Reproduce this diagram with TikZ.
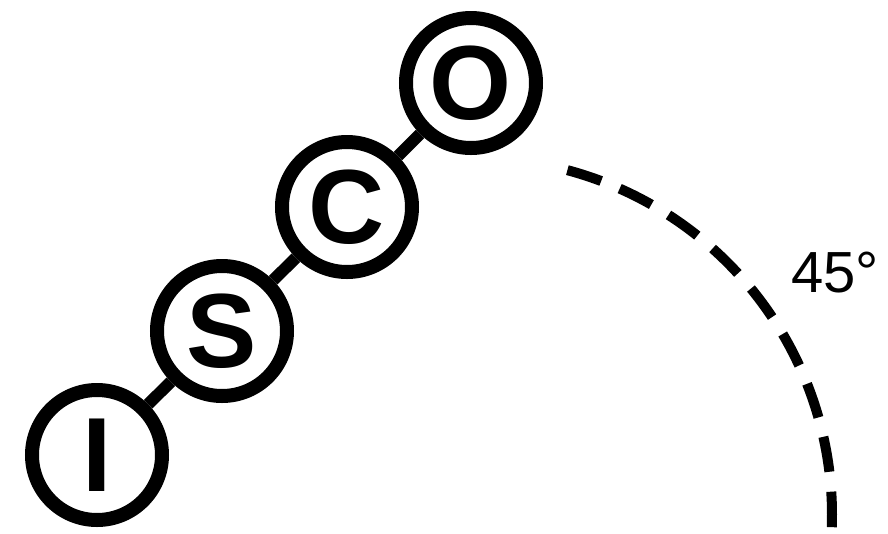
\documentclass[tikz,border=0pt]{standalone}
\usepackage{fontspec}
\setmainfont{Liberation Sans}
\begin{document}
\begin{tikzpicture}[x=1cm,y=1cm,
  atom/.style={circle,draw,line width=.14cm,minimum size=1.3cm,inner sep=0pt,font=\fontsize{30}{30}\selectfont\bfseries},
  link/.style={line width=.12cm},
  sweep/.style={line width=.1cm,dash pattern=on .355cm off .2cm}]
\useasboundingbox (0,0) rectangle (8.88,5.33);
\node[atom] (I) at (.97,.78){I}; \node[atom] (S) at (2.22,2.02){S};
\node[atom] (C) at (3.47,3.26){C}; \node[atom] (O) at (4.71,4.50){O};
\draw[link] (I)--(S) (S)--(C) (C)--(O);
\begin{scope} \clip (0,0) rectangle (8.88,5.33);
\draw[sweep] (4.75,.18) ++(75:3.57) arc[start angle=75,end angle=-3,radius=3.57];
\end{scope}
\node[font=\fontsize{16.5}{16.5}\selectfont] (ang) at (8.35,2.60){45°};
\end{tikzpicture}
\end{document}
